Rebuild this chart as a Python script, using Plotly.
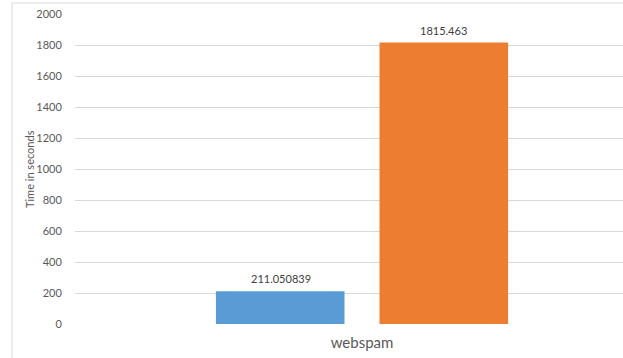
import plotly.graph_objects as go

# Benchmark timings for the webspam dataset
categories = ["webspam"]
series_a = [211.050839]
series_b = [1815.463]
label_a = ["211.050839"]
label_b = ["1815.463"]
y_ticks = [0, 200, 400, 600, 800, 1000, 1200, 1400, 1600, 1800, 2000]

FONT = "Lato, Open Sans, sans-serif"
GRID = "#d9d9d9"
LABEL_COLOR = "#404040"

fig = go.Figure()
fig.add_trace(go.Bar(x=categories, y=series_a, marker=dict(color="#5B9BD5", line=dict(width=0))))
fig.add_trace(go.Bar(x=categories, y=series_b, marker=dict(color="#ED7D31", line=dict(width=0))))

# value labels above each bar, placed a little higher than Plotly's built-in outside text
for vals, labels, shift in ((series_a, label_a, -81.5), (series_b, label_b, 81.5)):
    for cat, v, t in zip(categories, vals, labels):
        fig.add_annotation(x=cat, y=v, text=t, showarrow=False, xref="x", yref="y",
                           yanchor="bottom", xshift=shift, yshift=4,
                           font=dict(size=11, color=LABEL_COLOR, family=FONT))

fig.update_layout(
    width=623, height=358,
    margin=dict(l=75, r=0, t=14, b=34),
    paper_bgcolor="white", plot_bgcolor="white",
    showlegend=False,
    barmode="group", bargap=0.43, bargroupgap=0.214,
    font=dict(family=FONT, color="#595959"),
    xaxis=dict(range=[-0.5, 0.4547], showgrid=False, zeroline=False, showline=False,
               ticks="outside", ticklen=5, tickcolor="rgba(0,0,0,0)",
               tickfont=dict(size=15, color="#595959", family=FONT)),
    yaxis=dict(range=[0, 2000], tickvals=y_ticks, showgrid=True, gridcolor=GRID, gridwidth=1,
               zeroline=False, showline=False,
               ticks="outside", ticklen=10, tickcolor="rgba(0,0,0,0)",
               tickfont=dict(size=11, color="#595959", family=FONT)),
)

# axis title, rotated, just left of the tick labels
fig.add_annotation(text="Time in seconds", xref="paper", yref="paper", x=-46/548, y=0.5,
                   xanchor="center", yanchor="middle", textangle=-90, showarrow=False,
                   font=dict(size=11, color="#595959", family=FONT))

# chart frame (left and top border)
fig.add_shape(type="line", xref="paper", yref="paper", x0=-63/548, x1=1.0, y0=1 + 11/310, y1=1 + 11/310,
              line=dict(color=GRID, width=1))
fig.add_shape(type="line", xref="paper", yref="paper", x0=-63/548, x1=-63/548, y0=-34/310, y1=1 + 11/310,
              line=dict(color=GRID, width=1))

fig.write_html("out.html")
